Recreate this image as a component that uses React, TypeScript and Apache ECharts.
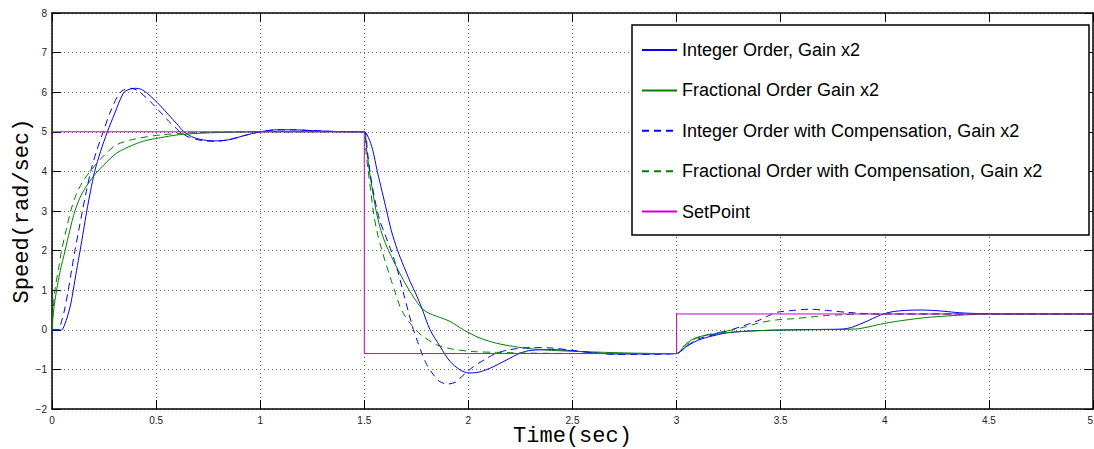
import React, { useEffect, useRef } from "react";
import * as echarts from "echarts";

const seriesNames = [
  "Integer Order, Gain x2",
  "Fractional Order Gain x2",
  "Integer Order with Compensation, Gain x2",
  "Fractional Order with Compensation, Gain x2",
  "SetPoint",
];

const xTicks = [0, 0.5, 1, 1.5, 2, 2.5, 3, 3.5, 4, 4.5, 5];
const yTicks = [-2, -1, 0, 1, 2, 3, 4, 5, 6, 7, 8];

// Integer Order, Gain x2 (blue solid)
const intT = [0, 0.046, 0.06, 0.075, 0.09, 0.102, 0.118, 0.135, 0.151, 0.167, 0.185, 0.205, 0.233, 0.266, 0.3, 0.343, 0.37, 0.4, 0.43, 0.46, 0.49, 0.52, 0.56, 0.6, 0.63, 0.67, 0.72, 0.78, 0.85, 0.92, 1.0, 1.08, 1.15, 1.25, 1.35, 1.45, 1.5, 1.52, 1.54, 1.5625, 1.585, 1.6075, 1.63, 1.66, 1.69, 1.72, 1.75, 1.776, 1.816, 1.864, 1.912, 1.96, 2.0, 2.04, 2.104, 2.184, 2.248, 2.3, 2.4, 2.5, 2.6, 2.7, 2.85, 3.0, 3.04, 3.08, 3.12, 3.16, 3.24, 3.32, 3.4, 3.55, 3.7, 3.8, 3.84, 3.88, 3.92, 3.96, 4.0, 4.04, 4.1, 4.17, 4.23, 4.28, 4.36, 4.45, 4.55, 4.7, 5.0];
const intV = [0, 0, 0.12, 0.35, 0.65, 1.0, 1.5, 2.0, 2.5, 3.0, 3.5, 4.0, 4.5, 5.0, 5.45, 5.98, 6.07, 6.1, 6.07, 5.96, 5.82, 5.66, 5.43, 5.2, 5.02, 4.88, 4.8, 4.77, 4.8, 4.9, 5.0, 5.05, 5.05, 5.03, 5.01, 5.0, 5.0, 4.85, 4.55, 4.0, 3.5, 3.0, 2.5, 2.0, 1.6, 1.22, 0.88, 0.55, 0.0, -0.42, -0.8, -1.01, -1.09, -1.08, -0.97, -0.76, -0.59, -0.52, -0.5, -0.53, -0.58, -0.61, -0.61, -0.6, -0.45, -0.32, -0.23, -0.17, -0.08, -0.04, -0.02, 0, 0.01, 0.02, 0.06, 0.14, 0.23, 0.33, 0.41, 0.46, 0.49, 0.5, 0.49, 0.47, 0.43, 0.41, 0.4, 0.4, 0.4];

// Fractional Order Gain x2 (green solid)
const fracT = [0, 0.008, 0.022, 0.04, 0.063, 0.085, 0.11, 0.14, 0.175, 0.21, 0.25, 0.31, 0.39, 0.45, 0.52, 0.6, 0.7, 0.8, 1.0, 1.2, 1.5, 1.51, 1.525, 1.54, 1.555, 1.575, 1.6, 1.63, 1.67, 1.71, 1.75, 1.78, 1.81, 1.848, 1.912, 1.976, 2.056, 2.136, 2.216, 2.3, 2.4, 2.6, 2.8, 3.0, 3.04, 3.08, 3.12, 3.16, 3.24, 3.4, 3.6, 3.86, 3.92, 3.96, 4.04, 4.12, 4.2, 4.3, 4.4, 4.52, 4.7, 5.0];
const fracV = [0, 0.5, 1.0, 1.5, 2.0, 2.5, 3.0, 3.4, 3.7, 3.95, 4.17, 4.46, 4.67, 4.78, 4.85, 4.92, 4.96, 4.98, 5.0, 5.0, 5.0, 4.6, 4.0, 3.5, 3.05, 2.6, 2.2, 1.85, 1.43, 1.05, 0.72, 0.52, 0.42, 0.34, 0.21, 0.0, -0.21, -0.34, -0.42, -0.48, -0.52, -0.56, -0.59, -0.6, -0.38, -0.23, -0.16, -0.12, -0.07, -0.02, 0, 0.02, 0.07, 0.12, 0.2, 0.26, 0.31, 0.35, 0.38, 0.4, 0.4, 0.4];

// Integer Order with Compensation, Gain x2 (blue dashed)
const intCompT = [0, 0.03, 0.045, 0.06, 0.078, 0.094, 0.11, 0.128, 0.146, 0.165, 0.186, 0.213, 0.246, 0.28, 0.323, 0.35, 0.375, 0.405, 0.44, 0.48, 0.52, 0.56, 0.6, 0.62, 0.66, 0.72, 0.78, 0.85, 0.92, 1.0, 1.08, 1.15, 1.25, 1.35, 1.45, 1.5, 1.515, 1.53, 1.55, 1.575, 1.6, 1.625, 1.645, 1.665, 1.688, 1.712, 1.736, 1.756, 1.776, 1.8, 1.83, 1.86, 1.9, 1.94, 1.96, 1.99, 2.024, 2.088, 2.136, 2.2, 2.3, 2.4, 2.5, 2.6, 2.7, 2.8, 3.0, 3.04, 3.08, 3.12, 3.16, 3.2, 3.24, 3.28, 3.32, 3.36, 3.4, 3.44, 3.48, 3.56, 3.64, 3.72, 3.82, 3.96, 4.1, 4.3, 5.0];
const intCompV = [0, 0, 0.2, 0.5, 1.0, 1.5, 2.0, 2.5, 3.0, 3.5, 4.0, 4.5, 5.0, 5.5, 5.97, 6.07, 6.1, 6.06, 5.92, 5.72, 5.5, 5.27, 5.07, 4.98, 4.86, 4.78, 4.76, 4.8, 4.9, 5.0, 5.05, 5.05, 5.03, 5.01, 5.0, 5.0, 4.5, 3.9, 3.3, 2.75, 2.4, 2.05, 1.75, 1.4, 0.93, 0.45, 0.0, -0.3, -0.59, -0.88, -1.12, -1.3, -1.37, -1.32, -1.22, -1.08, -0.93, -0.72, -0.59, -0.5, -0.45, -0.46, -0.52, -0.58, -0.62, -0.62, -0.6, -0.45, -0.3, -0.2, -0.15, -0.09, -0.03, 0.03, 0.1, 0.17, 0.25, 0.35, 0.44, 0.49, 0.52, 0.49, 0.44, 0.4, 0.4, 0.4, 0.4];

// Fractional Order with Compensation, Gain x2 (green dashed)
const fracCompT = [0, 0.005, 0.014, 0.03, 0.046, 0.067, 0.09, 0.115, 0.145, 0.183, 0.24, 0.31, 0.4, 0.52, 0.65, 0.8, 1.0, 1.5, 1.508, 1.519, 1.531, 1.543, 1.56, 1.585, 1.605, 1.623, 1.645, 1.671, 1.695, 1.719, 1.75, 1.783, 1.848, 1.927, 2.024, 2.136, 2.3, 2.6, 3.0, 3.04, 3.08, 3.12, 3.16, 3.24, 3.32, 3.4, 3.48, 3.56, 3.64, 3.72, 3.8, 3.88, 4.0, 5.0];
const fracCompV = [0, 0.45, 1.0, 1.5, 2.0, 2.5, 3.0, 3.4, 3.72, 4.0, 4.35, 4.67, 4.82, 4.92, 4.97, 4.99, 5.0, 5.0, 4.5, 4.0, 3.5, 3.0, 2.5, 2.0, 1.65, 1.35, 1.0, 0.59, 0.35, 0.17, -0.02, -0.17, -0.38, -0.49, -0.55, -0.57, -0.59, -0.6, -0.6, -0.42, -0.25, -0.17, -0.11, -0.03, 0.06, 0.18, 0.25, 0.28, 0.32, 0.36, 0.38, 0.4, 0.4, 0.4];

// SetPoint (magenta)
const setT = [0, 1.5, 1.5, 3, 3, 5];
const setV = [5, 5, -0.6, -0.6, 0.4, 0.4];

const pairs = (t: number[], v: number[]) => t.map((x, i) => [x, v[i]]);

const colors = ["#0000ff", "#008000", "#0000ff", "#008000", "#cc00cc"];
const dashed = [false, false, true, true, false];
const smoothFlags = [true, true, true, true, false];
const dataSets = [
  pairs(intT, intV),
  pairs(fracT, fracV),
  pairs(intCompT, intCompV),
  pairs(fracCompT, fracCompV),
  pairs(setT, setV),
];

const fmtY = (v: number) => (v < 0 ? "\u2212" + Math.abs(v) : String(v));

export default function App() {
  const ref = useRef<HTMLDivElement>(null);
  useEffect(() => {
    if (!ref.current) return;
    const chart = echarts.init(ref.current, null, { renderer: "svg" });
    const axisLine = { show: true, onZero: false, lineStyle: { color: "#000", width: 1.5 } };
    const tick = { show: true, inside: true, length: 9, lineStyle: { color: "#000", width: 1 } };
    const label = { fontFamily: "Liberation Sans", fontSize: 10, color: "#222" };
    const split = { show: true, lineStyle: { color: "#666", type: [1, 3], width: 1 } };
    const nameStyle = { fontFamily: "Liberation Mono", fontSize: 22, lineHeight: 20, color: "#000" };
    chart.setOption({
      animation: false,
      backgroundColor: "#fff",
      grid: { left: 52, right: 1, top: 13, bottom: 40, containLabel: false, outerBoundsMode: "none" },
      xAxis: [
        {
          type: "value",
          min: xTicks[0],
          max: xTicks[xTicks.length - 1],
          interval: 0.5,
          position: "bottom",
          axisLine,
          axisTick: tick,
          axisLabel: { ...label, margin: 6, alignMaxLabel: "right", formatter: (v: number) => String(v) },
          splitLine: split,
          name: "Time(sec)",
          nameLocation: "middle",
          nameGap: 17,
          nameMoveOverlap: false,
          nameTextStyle: nameStyle,
        },
        {
          type: "value",
          min: xTicks[0],
          max: xTicks[xTicks.length - 1],
          interval: 0.5,
          position: "top",
          axisLine,
          axisTick: tick,
          axisLabel: { show: false },
          splitLine: { show: false },
        },
      ],
      yAxis: [
        {
          type: "value",
          min: yTicks[0],
          max: yTicks[yTicks.length - 1],
          interval: 1,
          position: "left",
          axisLine,
          axisTick: tick,
          axisLabel: { ...label, margin: 5, formatter: fmtY },
          splitLine: split,
          name: "Speed(rad/sec)",
          nameLocation: "middle",
          nameGap: 20,
          nameMoveOverlap: false,
          nameTextStyle: nameStyle,
        },
        {
          type: "value",
          min: yTicks[0],
          max: yTicks[yTicks.length - 1],
          interval: 1,
          position: "right",
          axisLine,
          axisTick: tick,
          axisLabel: { show: false },
          splitLine: { show: false },
        },
      ],
      graphic: [
        {
          type: "rect",
          z: 9,
          shape: { x: 632, y: 25, width: 457, height: 210 },
          style: { fill: "#fff", stroke: "#000", lineWidth: 1.5 },
        },
      ],
      legend: {
        z: 10,
        orient: "vertical",
        left: 641,
        top: 41,
        padding: 0,
        itemWidth: 35,
        itemHeight: 14,
        itemGap: 22.4,
        selectedMode: false,
        data: seriesNames,
        itemStyle: { opacity: 0 },
        textStyle: { fontFamily: "Liberation Sans", fontSize: 18, lineHeight: 18, color: "#000" },
      },
      series: seriesNames.map((name, i) => ({
        name,
        type: "line",
        data: dataSets[i],
        symbol: "none",
        showSymbol: false,
        smooth: smoothFlags[i] ? 0.3 : false,
        lineStyle: { color: colors[i], width: 1, type: dashed[i] ? [7, 5] : "solid" },
        itemStyle: { color: colors[i] },
        z: 2,
      })),
    });
    return () => chart.dispose();
  }, []);
  return (
    <div
      ref={ref}
      style={{ position: "fixed", left: 0, top: 0, width: 1094, height: 449, background: "#fff" }}
    />
  );
}
